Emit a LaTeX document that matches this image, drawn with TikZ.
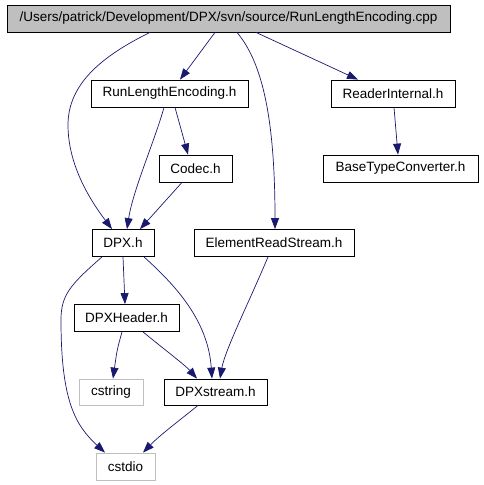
\documentclass[tikz,border=0pt]{standalone}
\usepackage{fontspec}
\setmainfont{Liberation Sans}
\usetikzlibrary{arrows.meta}
\definecolor{edgeblue}{RGB}{25,25,112}
\definecolor{rootgray}{RGB}{191,191,191}
\definecolor{sysgray}{RGB}{191,191,191}

\begin{document}
\begin{tikzpicture}
[
	x=1pt, y=-1pt,
	filebox/.style={draw,black,line width=0.8pt,inner sep=0pt,minimum height=27pt,font=\fontsize{13.5}{15}\selectfont},
	rootbox/.style={filebox,fill=rootgray},
	sysbox/.style={filebox,draw=sysgray},
	dep/.style={edgeblue,line width=0.7pt,-{Triangle[length=11pt,width=8pt]}}
]
	\useasboundingbox (0,0) rectangle (483,485);

	% files
	\node[rootbox,minimum width=443pt] (root) at (228.5,18.5) {/Users/patrick/Development/DPX/svn/source/RunLengthEncoding.cpp};
	\node[filebox,minimum width=157pt] (rle) at (169.5,93.5) {RunLengthEncoding.h};
	\node[filebox,minimum width=124pt] (reader) at (393,93.5) {ReaderInternal.h};
	\node[filebox,minimum width=73pt] (codec) at (195.5,168.5) {Codec.h};
	\node[filebox,minimum width=155pt] (btc) at (400.5,168.5) {BaseTypeConverter.h};
	\node[filebox,minimum width=62pt] (dpx) at (123,243) {DPX.h};
	\node[filebox,minimum width=160pt] (ers) at (274,243) {ElementReadStream.h};
	\node[filebox,minimum width=105pt] (hdr) at (126.5,318) {DPXHeader.h};
	\node[sysbox,minimum width=64pt,minimum height=26pt] (cstring) at (111,392) {cstring};
	\node[filebox,minimum width=103pt,minimum height=26pt] (dpxs) at (215.5,392) {DPXstream.h};
	\node[sysbox,minimum width=59pt] (cstdio) at (125.5,466.5) {cstdio};

	% includes
	\draw[dep] ([xshift=-78.5pt]root.south) .. controls (100,57) and (68,85) .. (68,125)
	  .. controls (68,165) and (90,200) .. ([xshift=-11pt]dpx.north);
	\draw[dep] ([xshift=-13.5pt]root.south) -- ([xshift=10.5pt]rle.north);
	\draw[dep] ([xshift=8.5pt]root.south) .. controls (260,60) and (275,110) .. ([xshift=1pt]ers.north);
	\draw[dep] ([xshift=27.5pt]root.south) -- ([xshift=-35pt]reader.north);

	\draw[dep] ([xshift=-5.5pt]rle.south) .. controls (155,140) and (133,190) .. ([xshift=4pt]dpx.north);
	\draw[dep] ([xshift=5.5pt]rle.south) .. controls (180,125) .. ([xshift=-7.5pt]codec.north);
	\draw[dep] ([xshift=-13.5pt]codec.south) -- ([xshift=17pt]dpx.north);
	\draw[dep] ([xshift=1pt]reader.south) -- ([xshift=-2.5pt]btc.north);

	\draw[dep] (dpx.south) -- ([xshift=-1.5pt]hdr.north);
	\draw[dep] ([xshift=21pt]dpx.south) .. controls (175,285) and (208,320) .. ([xshift=-3.5pt]dpxs.north);
	\draw[dep] ([xshift=-21pt]dpx.south) .. controls (70,285) and (61,295) .. (61,320)
	  .. controls (61,400) and (75,425) .. ([xshift=-20.5pt]cstdio.north);
	\draw[dep] ([xshift=-6pt]ers.south) .. controls (250,300) and (225,350) .. ([xshift=4.5pt]dpxs.north);

	\draw[dep] ([xshift=-4.5pt]hdr.south) .. controls (117,350) .. ([xshift=2pt]cstring.north);
	\draw[dep] ([xshift=16.5pt]hdr.south) .. controls (165,350) and (185,365) .. ([xshift=-18.5pt]dpxs.north);
	\draw[dep] ([xshift=-17.5pt]dpxs.south) .. controls (180,420) and (160,435) .. ([xshift=17.5pt]cstdio.north);

\end{tikzpicture}
\end{document}
